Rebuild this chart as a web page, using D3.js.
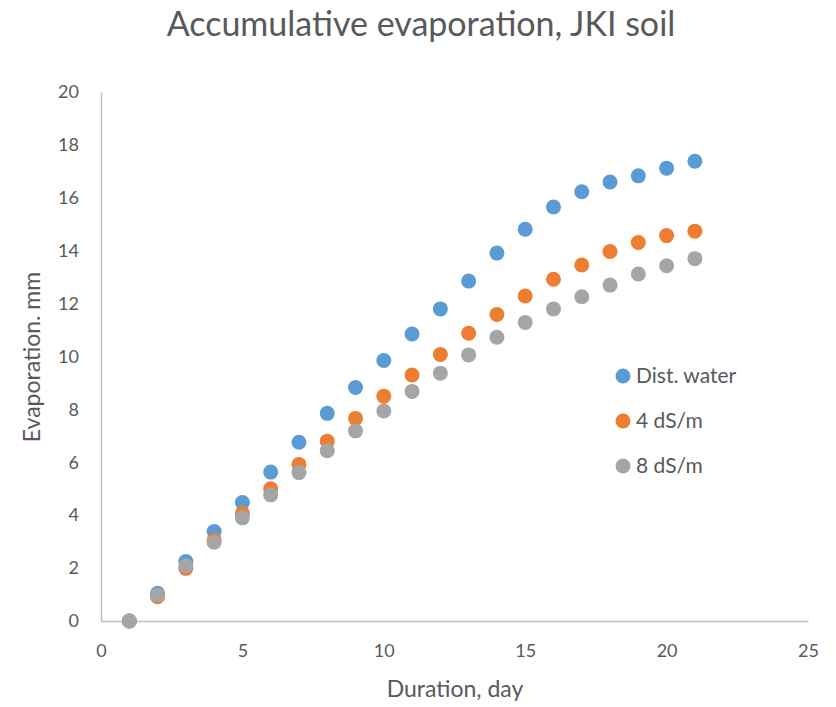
<!DOCTYPE html>
<html lang="en">
<head>
    <meta charset="UTF-8"/>
    <title>Accumulative evaporation, JKI soil</title>
    <script src="https://d3js.org/d3.v7.min.js"></script>
    <style>
        body { margin: 0; background: #fff; }
        text { font-family: Lato, "Open Sans", sans-serif; fill: #595959; }
    </style>
</head>
<body>
    <div id="chart"></div>

    <script>
        var days = [1, 2, 3, 4, 5, 6, 7, 8, 9, 10, 11, 12, 13, 14, 15, 16, 17, 18, 19, 20, 21];
        var distWater = [0, 1.05, 2.25, 3.38, 4.48, 5.63, 6.76, 7.85, 8.83, 9.85, 10.85, 11.8, 12.85, 13.91, 14.81, 15.65, 16.23, 16.6, 16.83, 17.12, 17.38];
        var ds4 = [0, 0.92, 1.99, 3.06, 4.07, 5.0, 5.92, 6.8, 7.66, 8.5, 9.3, 10.08, 10.88, 11.59, 12.29, 12.92, 13.46, 13.97, 14.31, 14.57, 14.74];
        var ds8 = [0, 0.98, 2.08, 2.98, 3.9, 4.77, 5.61, 6.44, 7.19, 7.94, 8.68, 9.37, 10.06, 10.73, 11.29, 11.8, 12.26, 12.7, 13.12, 13.43, 13.7];
        var seriesNames = ["Dist. water", "4 dS/m", "8 dS/m"];
        var xTicks = [0, 5, 10, 15, 20, 25];
        var yTicks = [0, 2, 4, 6, 8, 10, 12, 14, 16, 18, 20];

        var w = 836, h = 707;
        var colors = ["#5B9BD5", "#ED7D31", "#A5A5A5"];

        var xScale = d3.scaleLinear().domain([0, 25]).range([101, 808]);
        var yScale = d3.scaleLinear().domain([0, 20]).range([621, 92]);

        var svg = d3.select("#chart").append("svg")
            .attr("width", w)
            .attr("height", h);

        // title
        svg.append("text")
            .attr("x", 421)
            .attr("y", 36)
            .attr("text-anchor", "middle")
            .attr("font-size", "34px")
            .text("Accumulative evaporation, JKI soil");

        // axes, no tick marks like the excel original
        var xAxis = d3.axisBottom(xScale).tickValues(xTicks).tickSize(0).tickPadding(23);
        var gx = svg.append("g")
            .attr("transform", "translate(0," + yScale(0) + ")")
            .call(xAxis);

        var yAxis = d3.axisLeft(yScale).tickValues(yTicks).tickSize(0).tickPadding(22);
        var gy = svg.append("g")
            .attr("transform", "translate(" + xScale(0) + ",0)")
            .call(yAxis);

        [gx, gy].forEach(function(g) {
            g.select(".domain").attr("stroke", "#BFBFBF").attr("stroke-width", 1.5);
            g.selectAll(".tick text")
                .attr("font-family", "Lato, sans-serif")
                .attr("font-size", "18px")
                .attr("fill", "#595959");
        });

        // axis titles
        svg.append("text")
            .attr("x", 455)
            .attr("y", 697)
            .attr("text-anchor", "middle")
            .attr("font-size", "23px")
            .text("Duration, day");

        svg.append("text")
            .attr("transform", "rotate(-90)")
            .attr("x", -357)
            .attr("y", 40)
            .attr("text-anchor", "middle")
            .attr("font-size", "23px")
            .text("Evaporation. mm");

        // points, gray drawn last so it sits on top
        var allSeries = [distWater, ds4, ds8];
        allSeries.forEach(function(vals, i) {
            svg.append("g").selectAll("circle")
                .data(vals)
                .enter()
                .append("circle")
                .attr("cx", function(d, j) { return xScale(days[j]); })
                .attr("cy", function(d) { return yScale(d); })
                .attr("r", 7.5)
                .attr("fill", colors[i]);
        });

        // legend
        var legend = svg.append("g");
        seriesNames.forEach(function(name, i) {
            var ly = 376 + i * 45;
            legend.append("circle")
                .attr("cx", 623)
                .attr("cy", ly)
                .attr("r", 7.5)
                .attr("fill", colors[i]);
            legend.append("text")
                .attr("x", 636)
                .attr("y", ly + 7)
                .attr("font-size", "21px")
                .text(name);
        });
    </script>
</body>
</html>
